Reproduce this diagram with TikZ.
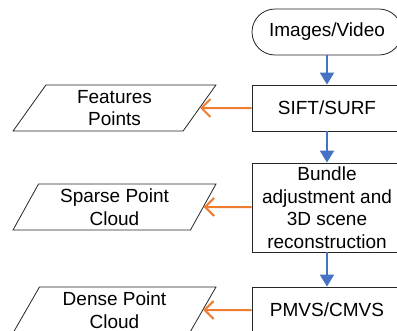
\documentclass[tikz,border=0pt]{standalone}
\usepackage{fontspec}
\setmainfont{Liberation Sans}
\usetikzlibrary{positioning,arrows.meta,shapes.geometric}
\definecolor{flowblue}{RGB}{68,114,196}
\definecolor{floworange}{RGB}{237,125,49}

\begin{document}
\begin{tikzpicture}[
  x=1pt, y=-1pt,
  font=\fontsize{19}{22.5}\selectfont,
  proc/.style={draw=black!85, line width=0.8pt, fill=white, minimum width=150pt,
               minimum height=46pt, inner sep=2pt, align=center},
  term/.style={proc, rounded corners=23pt},
  iobox/.style={trapezium, trapezium left angle=63.4, trapezium right angle=116.6,
                trapezium stretches=true, draw=black!85, line width=0.8pt,
                minimum width=203pt, minimum height=46pt, inner sep=0pt, align=center},
  flowarr/.style={-{Triangle[length=12pt,width=14pt]}, draw=flowblue, line width=2pt},
  outarr/.style={-{Straight Barb[length=9pt,width=18pt]}, draw=floworange, line width=2pt},
]
\useasboundingbox (0,0) rectangle (397,330);
\clip (0,0) rectangle (397,330);

% main column
\node[term] (img)  at (327,32)    {Images/Video};
\node[proc] (sift) at (327,108)   {SIFT/SURF};
\node[proc, minimum height=89pt] (bund) at (327,207.5)
  {Bundle\\adjustment and\\3D scene\\reconstruction};
\node[proc] (pmvs) at (327,310)   {PMVS/CMVS};

% outputs
\node[iobox] (feat)   at (114.5,108) {Features\\Points};
\node[iobox] (sparse) at (114.5,207) {Sparse Point\\Cloud};
\node[iobox] (dense)  at (114.5,310) {Dense Point\\Cloud};

\draw[flowarr] (img) -- (sift);
\draw[flowarr] (sift) -- (bund);
\draw[flowarr] (bund) -- (pmvs);

\draw[outarr] (sift) -- (feat);
\draw[outarr] (bund.west |- sparse) -- (sparse);
\draw[outarr] (pmvs) -- (dense);
\end{tikzpicture}
\end{document}
